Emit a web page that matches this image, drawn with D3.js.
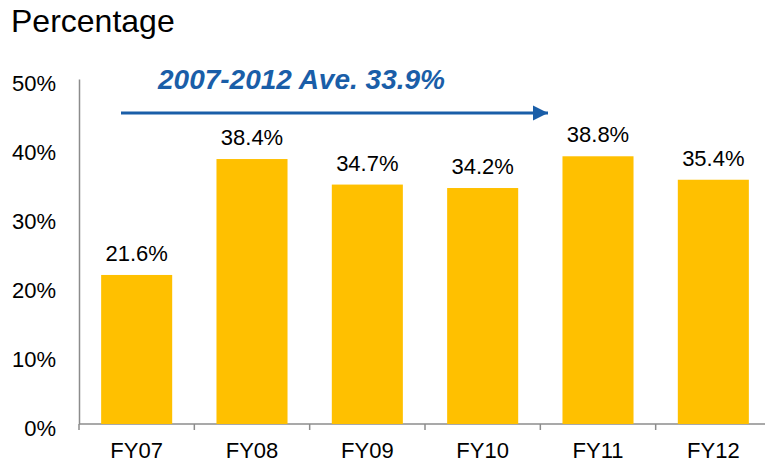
<!DOCTYPE html>
<html>
<head>
<meta charset="utf-8">
<script src="https://cdn.jsdelivr.net/npm/d3@7"></script>
<style>
  body { margin: 0; background: #fff; }
  text { font-family: "Liberation Sans", Arial, sans-serif; fill: #000; }
</style>
</head>
<body>
<svg width="765" height="465"></svg>
<script>
// chart data
const years = ['FY07', 'FY08', 'FY09', 'FY10', 'FY11', 'FY12'];
const ratios = [21.6, 38.4, 34.7, 34.2, 38.8, 35.4];
const yTicks = [0, 10, 20, 30, 40, 50];
const avgLabel = '2007-2012 Ave. 33.9%';

const svg = d3.select('svg');
const margin = { top: 79, right: 0, bottom: 41, left: 79 };
const width = 771 - margin.left;
const height = 465 - margin.top - margin.bottom;

const blue = '#1a5ea8';

// title
svg.append('text')
  .attr('x', 11)
  .attr('y', 32)
  .style('font-size', '32px')
  .text('Percentage');

const g = svg.append('g')
  .attr('transform', `translate(${margin.left},${margin.top})`);

const x = d3.scaleBand()
  .domain(years)
  .range([0, width])
  .paddingInner(0.384)
  .paddingOuter(0.192);

const y = d3.scaleLinear()
  .domain([0, 50])
  .range([height, 0]);

// y axis: line + labels, no tick marks
const yAxis = g.append('g')
  .call(d3.axisLeft(y).tickValues(yTicks).tickFormat(d => d + '%').tickSize(0).tickPadding(23));
yAxis.select('.domain').attr('stroke', '#8c8c8c').attr('stroke-width', 1.5);
yAxis.selectAll('text')
  .style('font-size', '22px')
  .attr('dy', '0.5em');

// x axis: tick marks at category boundaries
const xAxis = g.append('g')
  .attr('transform', `translate(0,${height})`)
  .call(d3.axisBottom(x).tickSize(0).tickPadding(18));
xAxis.select('.domain').remove();
xAxis.selectAll('text').style('font-size', '22px');

g.append('line')
  .attr('x1', 0).attr('x2', width)
  .attr('y1', height).attr('y2', height)
  .attr('stroke', '#8c8c8c').attr('stroke-width', 1.5);

const step = x.step();
g.append('g')
  .selectAll('line')
  .data(d3.range(years.length + 1))
  .join('line')
    .attr('x1', i => i * step)
    .attr('x2', i => i * step)
    .attr('y1', height)
    .attr('y2', height + 6)
    .attr('stroke', '#8c8c8c')
    .attr('stroke-width', 1.5);

// bars
g.selectAll('rect.bar')
  .data(ratios)
  .join('rect')
    .attr('class', 'bar')
    .attr('x', (d, i) => x(years[i]))
    .attr('y', d => y(d))
    .attr('width', x.bandwidth())
    .attr('height', d => height - y(d))
    .attr('fill', '#ffc000');

g.selectAll('text.val')
  .data(ratios)
  .join('text')
    .attr('class', 'val')
    .attr('x', (d, i) => x(years[i]) + x.bandwidth() / 2)
    .attr('y', d => y(d) - 14)
    .attr('text-anchor', 'middle')
    .style('font-size', '22px')
    .text(d => d.toFixed(1) + '%');

// average annotation
svg.append('defs').append('marker')
  .attr('id', 'arrow')
  .attr('viewBox', '0 0 10 10')
  .attr('refX', 10).attr('refY', 5)
  .attr('markerWidth', 5.5).attr('markerHeight', 6)
  .attr('markerUnits', 'strokeWidth')
  .attr('orient', 'auto')
  .append('path')
    .attr('d', 'M0,0 L10,5 L0,10 Z')
    .attr('fill', blue);

svg.append('line')
  .attr('x1', 121).attr('x2', 548)
  .attr('y1', 113).attr('y2', 113)
  .attr('stroke', blue)
  .attr('stroke-width', 2.8)
  .attr('marker-end', 'url(#arrow)');

svg.append('text')
  .attr('x', 158)
  .attr('y', 89)
  .style('font-size', '28px')
  .style('font-weight', 'bold')
  .style('font-style', 'italic')
  .style('fill', blue)
  .text(avgLabel);
</script>
</body>
</html>
